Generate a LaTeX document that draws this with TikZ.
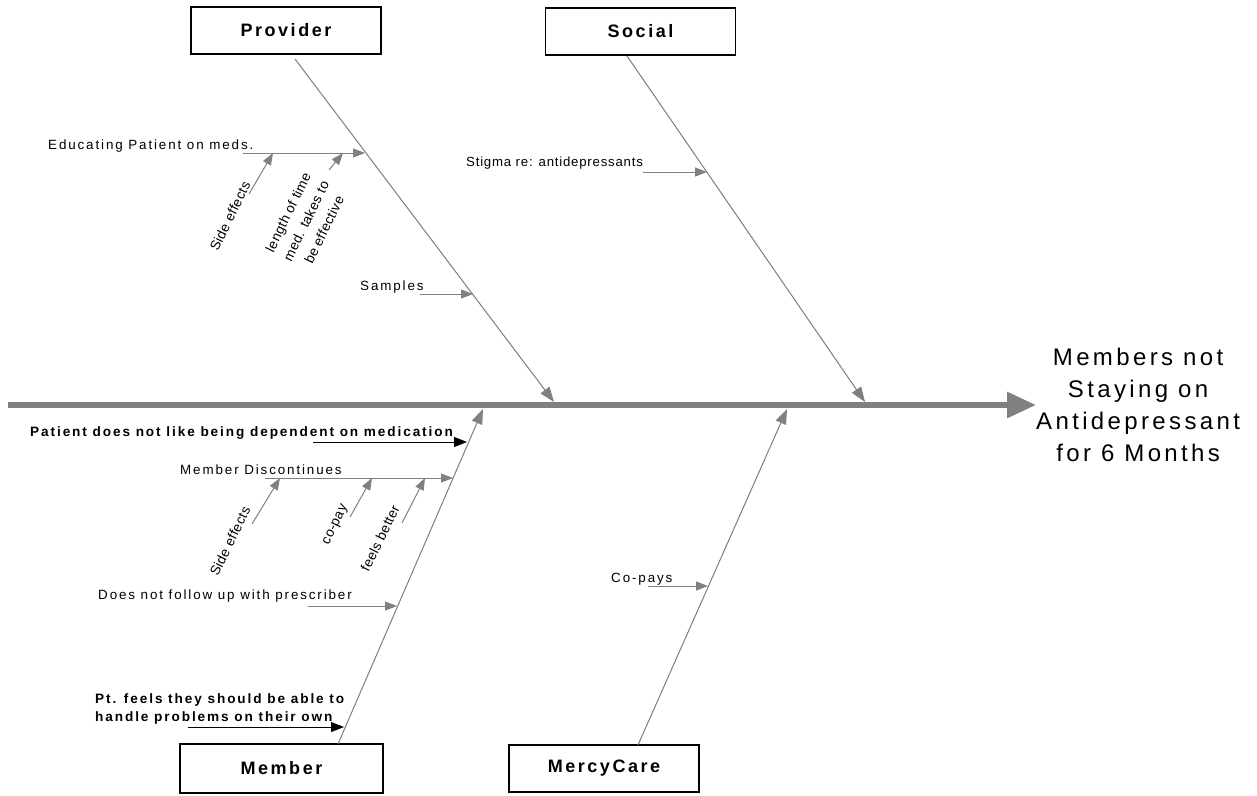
\documentclass[tikz,border=0pt]{standalone}
\usepackage{fontspec}
\setmainfont{Liberation Sans}[LetterSpace=14]
\newfontfamily\plainsans{Liberation Sans}[LetterSpace=3]
\newfontfamily\stigsans{Liberation Sans}[LetterSpace=6]
\usetikzlibrary{arrows.meta}
\definecolor{fishgray}{RGB}{128,128,128}
\begin{document}
\begin{tikzpicture}[x=1pt,y=-1pt,
  catbox/.style={draw=black, line width=1.1pt, minimum width=190pt, minimum height=47pt, font=\fontsize{18}{22}\selectfont\bfseries, inner sep=0pt},
  bone/.style={draw=fishgray, fill=fishgray, line width=1pt, -{Triangle[length=15pt,width=11pt]}},
  twig/.style={draw=fishgray, line width=1pt, -{Triangle[length=12pt,width=9pt]}, fishgray},
  blacktwig/.style={draw=black, line width=1pt, -{Triangle[length=13pt,width=10pt]}},
  lbl/.style={font=\fontsize{13.4}{17}\selectfont, inner sep=0pt},
  rlbl/.style={font=\plainsans\fontsize{13.6}{20}\selectfont, inner sep=0pt, rotate=64},
  blbl/.style={font=\fontsize{13.6}{18}\selectfont\bfseries, inner sep=0pt},
]
\useasboundingbox (0,0) rectangle (1257,795);

% category boxes
\node[catbox] (prov) at (286,30.5) {Provider};
\node[catbox] (soc) at (640.5,31.5) {Social};
\node[catbox, minimum width=203pt, minimum height=49pt] (mem) at (281.5,768.5) {Member};
\node[catbox] (mc) at (604,768.5) {MercyCare};

% effect
\node[font=\fontsize{24}{32}\selectfont, align=center, inner sep=0pt, anchor=west] (effect) at (1036,405) {Members not\\Staying on\\Antidepressant\\for 6 Months};

% spine
\coordinate (spineL) at (8,405);
\draw[fishgray, line width=6pt, -{Triangle[length=29pt,width=25pt]}] (spineL) -- (effect.west);

% bones
\coordinate (provT) at (295,59);   \coordinate (provH) at (554,402);
\coordinate (socT) at (627,56);    \coordinate (socH) at (865,402);
\coordinate (memT) at (338,744);   \coordinate (memH) at (483,409);
\coordinate (mcT) at (638,745);    \coordinate (mcH) at (787,409);
\draw[bone] (provT) -- (provH);
\draw[bone] (socT) -- (socH);
\draw[bone] (memT) -- (memH);
\draw[bone] (mcT) -- (mcH);

% Provider causes
\node[lbl, anchor=base west] (edu) at (48,149) {Educating Patient on meds.};
\coordinate (eduS) at (243,153); \coordinate (eduE) at (365,153);
\draw[twig] (eduS) -- (eduE);
\node[rlbl] (seA) at (230,216) {Side effects};
\coordinate (seAS) at (249,194); \coordinate (seAE) at (273,153);
\draw[twig] (seAS) -- (seAE);
\node[rlbl, align=center] (len) at (306,221) {length of time\\med. takes to\\be effective};
\coordinate (lenS) at (329,170); \coordinate (lenE) at (343,153);
\draw[twig] (lenS) -- (lenE);
\node[lbl, anchor=base west] (samp) at (360,290) {Samples};
\coordinate (sampS) at (420,294); \coordinate (sampE) at (473,294);
\draw[twig] (sampS) -- (sampE);

% Social causes
\node[lbl, font=\stigsans\fontsize{13.2}{17}\selectfont, anchor=base west] (stig) at (466,166) {Stigma re: antidepressants};
\coordinate (stigS) at (643,172); \coordinate (stigE) at (707,172);
\draw[twig] (stigS) -- (stigE);

% Member causes
\node[blbl, anchor=base west] (dep) at (30,436) {Patient does not like being dependent on medication};
\coordinate (depS) at (313,442); \coordinate (depE) at (467,442);
\draw[blacktwig] (depS) -- (depE);
\node[lbl, anchor=base west] (disc) at (180,474) {Member Discontinues};
\coordinate (discS) at (265,478); \coordinate (discE) at (453,478);
\draw[twig] (discS) -- (discE);
\node[rlbl] (seB) at (230,541) {Side effects};
\coordinate (seBS) at (252,524); \coordinate (seBE) at (280,478);
\draw[twig] (seBS) -- (seBE);
\node[rlbl] (cpay) at (336,525) {co-pay};
\coordinate (cpayS) at (350,517); \coordinate (cpayE) at (372,478);
\draw[twig] (cpayS) -- (cpayE);
\node[rlbl] (feel) at (380,538) {feels better};
\coordinate (feelS) at (402,523); \coordinate (feelE) at (425,478);
\draw[twig] (feelS) -- (feelE);
\node[lbl, anchor=base west] (fol) at (98,599) {Does not follow up with prescriber};
\coordinate (folS) at (308,606); \coordinate (folE) at (397,606);
\draw[twig] (folS) -- (folE);
\node[blbl, anchor=north west, align=left] (own) at (95,693.5) {Pt. feels they should be able to\\handle problems on their own};
\coordinate (ownS) at (188,727); \coordinate (ownE) at (344,727);
\draw[blacktwig] (ownS) -- (ownE);

% MercyCare causes
\node[lbl, anchor=base west] (cop) at (611,582) {Co-pays};
\coordinate (copS) at (648,586); \coordinate (copE) at (708,586);
\draw[twig] (copS) -- (copE);
\end{tikzpicture}
\end{document}
